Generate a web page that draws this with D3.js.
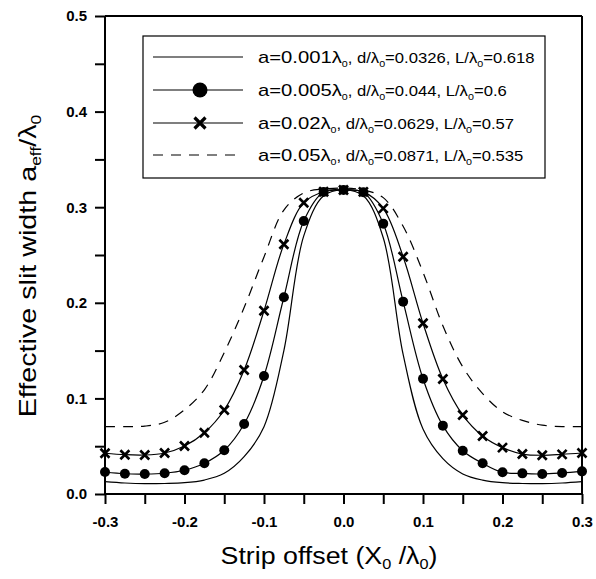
<!DOCTYPE html>
<html>
<head>
<meta charset="utf-8">
<script src="https://cdn.jsdelivr.net/npm/d3@7"></script>
<style>
  body { margin: 0; background: #fff; }
  svg text { font-family: "Liberation Sans", Arial, sans-serif; }
</style>
</head>
<body>
<svg id="chart" width="596" height="579"></svg>
<script>
// x positions of the sampled points (X0/lambda0)
var xVals = [-0.3, -0.275, -0.25, -0.225, -0.2, -0.175, -0.15, -0.125, -0.1, -0.075, -0.05, -0.025, 0,
             0.025, 0.05, 0.075, 0.1, 0.125, 0.15, 0.175, 0.2, 0.225, 0.25, 0.275, 0.3];

// a = 0.001 lambda0 (plain line)
var seriesA = [0.0129, 0.0115, 0.0108, 0.011, 0.0118, 0.0146, 0.0216, 0.039, 0.0704, 0.150, 0.270, 0.312, 0.318,
               0.312, 0.268, 0.146, 0.068, 0.037, 0.021, 0.0145, 0.0118, 0.011, 0.0108, 0.0115, 0.0129];
// a = 0.005 lambda0 (circles)
var seriesB = [0.023, 0.0212, 0.0209, 0.0217, 0.0248, 0.0321, 0.0457, 0.0732, 0.1234, 0.2058, 0.2856, 0.316, 0.318,
               0.3156, 0.2828, 0.2012, 0.1206, 0.0715, 0.0453, 0.0321, 0.0227, 0.0216, 0.0209, 0.022, 0.0237];
// a = 0.02 lambda0 (crosses)
var seriesC = [0.0426, 0.0411, 0.0408, 0.0429, 0.0502, 0.0641, 0.0879, 0.1297, 0.1917, 0.2612, 0.3047, 0.3162, 0.318,
               0.316, 0.2988, 0.2482, 0.1786, 0.1203, 0.0826, 0.0607, 0.0485, 0.0418, 0.0405, 0.0415, 0.0429];
// a = 0.05 lambda0 (dashed)
var seriesD = [0.0705, 0.0705, 0.071, 0.075, 0.088, 0.109, 0.148, 0.195, 0.248, 0.297, 0.315, 0.319, 0.32,
               0.318, 0.31, 0.28, 0.232, 0.176, 0.133, 0.105, 0.086, 0.077, 0.072, 0.0705, 0.0705];

var xTicks = [-0.3, -0.25, -0.2, -0.15, -0.1, -0.05, 0, 0.05, 0.1, 0.15, 0.2, 0.25, 0.3];
var yTicks = [0, 0.05, 0.1, 0.15, 0.2, 0.25, 0.3, 0.35, 0.4, 0.45, 0.5];

var legendMain = ["a=0.001", "a=0.005", "a=0.02", "a=0.05"];
var legendD = ["0.0326", "0.044", "0.0629", "0.0871"];
var legendL = ["0.618", "0.6", "0.57", "0.535"];
var legendStyle = ["line", "circle", "cross", "dash"];

var svg = d3.select('#chart');
var margin = {left: 105, right: 14, top: 16, bottom: 85};
var width = 596, height = 579;
var innerW = width - margin.left - margin.right;
var innerH = height - margin.top - margin.bottom;

var g = svg.append('g')
    .attr('transform', `translate(${margin.left}, ${margin.top})`);

var xScale = d3.scaleLinear().domain([-0.3, 0.3]).range([0, innerW]);
var yScale = d3.scaleLinear().domain([0, 0.5]).range([innerH, 0]);

// frame: top and right
g.append('line').attr('x1', 0).attr('x2', innerW).attr('y1', 0).attr('y2', 0)
    .attr('stroke', 'black').attr('stroke-width', 2);
g.append('line').attr('x1', innerW).attr('x2', innerW).attr('y1', 0).attr('y2', innerH)
    .attr('stroke', 'black').attr('stroke-width', 2);

var fmt = d => (Math.round(d * 100) % 10 === 0) ? d.toFixed(1) : '';

var yAxis = g.append('g')
    .call(d3.axisLeft(yScale).tickValues(yTicks).tickSize(10).tickPadding(8).tickFormat(fmt));
var xAxis = g.append('g')
    .attr('transform', `translate(0,${innerH})`)
    .call(d3.axisBottom(xScale).tickValues(xTicks).tickSize(10).tickPadding(12).tickFormat(fmt));

[xAxis, yAxis].forEach(function(ax) {
    ax.select('.domain').attr('stroke-width', 2);
    ax.selectAll('.tick line').attr('stroke-width', 2);
    ax.selectAll('.tick text')
        .style('font-size', '15px')
        .style('font-weight', 'bold')
        .style('font-family', '"Liberation Sans", Arial, sans-serif')
        .attr('fill', 'black');
});
xAxis.select('.domain').attr('d', `M0,0H${innerW}`);
yAxis.select('.domain').attr('d', `M0,${innerH}V0`);

var line = d3.line()
    .x(d => xScale(d[0]))
    .y(d => yScale(d[1]))
    .curve(d3.curveCatmullRom.alpha(0.5));

function pairs(vals) { return xVals.map((x, i) => [x, vals[i]]); }

[seriesA, seriesB, seriesC, seriesD].forEach(function(s, i) {
    g.append('path')
        .datum(pairs(s))
        .attr('fill', 'none')
        .attr('stroke', 'black')
        .attr('stroke-width', 1.2)
        .attr('stroke-dasharray', i === 3 ? '10,8' : null)
        .attr('d', line);
});

function crossPath(s) {
    return `M${-s},${-s}L${s},${s}M${-s},${s}L${s},${-s}`;
}

g.selectAll('.dotB')
    .data(pairs(seriesB))
    .enter().append('circle')
    .attr('class', 'dotB')
    .attr('cx', d => xScale(d[0]))
    .attr('cy', d => yScale(d[1]))
    .attr('r', 5)
    .attr('fill', 'black');

g.selectAll('.dotC')
    .data(pairs(seriesC))
    .enter().append('path')
    .attr('class', 'dotC')
    .attr('transform', d => `translate(${xScale(d[0])},${yScale(d[1])})`)
    .attr('d', crossPath(4.5))
    .attr('stroke', 'black')
    .attr('stroke-width', 2.6)
    .attr('fill', 'none');

// legend
var leg = svg.append('g');
leg.append('rect')
    .attr('x', 143).attr('y', 36)
    .attr('width', 402).attr('height', 142)
    .attr('fill', 'white')
    .attr('stroke', 'black')
    .attr('stroke-width', 1.2);

var rowY = [57, 90, 123, 155];
var legTexts = [];
legendMain.forEach(function(lbl, i) {
    var y = rowY[i];
    leg.append('line')
        .attr('x1', 153).attr('x2', 243)
        .attr('y1', y).attr('y2', y)
        .attr('stroke', 'black')
        .attr('stroke-width', 1.2)
        .attr('stroke-dasharray', legendStyle[i] === 'dash' ? '10,8' : null);
    if (legendStyle[i] === 'circle') {
        leg.append('circle').attr('cx', 200).attr('cy', y).attr('r', 7.5).attr('fill', 'black');
    }
    if (legendStyle[i] === 'cross') {
        leg.append('path')
            .attr('transform', `translate(200,${y})`)
            .attr('d', crossPath(5.5))
            .attr('stroke', 'black').attr('stroke-width', 3.2).attr('fill', 'none');
    }
    var t = leg.append('text')
        .attr('transform', `translate(258,${y + 6})`)
        .attr('fill', 'black');
    t.append('tspan').style('font-size', '17px').text(lbl + 'λ');
    t.append('tspan').style('font-size', '9px').attr('dy', 4).text('0');
    t.append('tspan').style('font-size', '14px').attr('dy', -4).text(', d/λ');
    t.append('tspan').style('font-size', '9px').attr('dy', 4).text('0');
    t.append('tspan').style('font-size', '14px').attr('dy', -4).text('=' + legendD[i] + ', L/λ');
    t.append('tspan').style('font-size', '9px').attr('dy', 4).text('0');
    t.append('tspan').style('font-size', '14px').attr('dy', -4).text('=' + legendL[i]);
    legTexts.push({node: t, y: y + 6});
});
// the reference text is wider than the font: stretch rows so the first row ends near the box edge
var w0 = legTexts[0].node.node().getBBox().width;
var sx = 277 / w0;
legTexts.forEach(function(o) {
    o.node.attr('transform', `translate(258,${o.y}) scale(${sx},1)`);
});

// axis titles
function stretchTo(sel, cx, cy, rot, target) {
    var w = sel.node().getBBox().width;
    sel.attr('transform', `translate(${cx},${cy}) rotate(${rot}) scale(${target / w},1)`);
}

var xt = svg.append('text')
    .attr('text-anchor', 'middle')
    .style('font-size', '23px')
    .attr('fill', 'black');
xt.append('tspan').text('Strip offset (X');
xt.append('tspan').style('font-size', '14px').attr('dy', 5).text('0');
xt.append('tspan').attr('dy', -5).text(' /λ');
xt.append('tspan').style('font-size', '14px').attr('dy', 5).text('0');
xt.append('tspan').attr('dy', -5).text(')');
stretchTo(xt, 329, 564, 0, 217);

var yt = svg.append('text')
    .attr('text-anchor', 'middle')
    .style('font-size', '23px')
    .attr('fill', 'black');
yt.append('tspan').text('Effective slit width a');
yt.append('tspan').style('font-size', '14px').attr('dy', 5).text('eff');
yt.append('tspan').attr('dy', -5).text('/λ');
yt.append('tspan').style('font-size', '14px').attr('dy', 5).text('0');
stretchTo(yt, 36, 266, -90, 303);
</script>
</body>
</html>
